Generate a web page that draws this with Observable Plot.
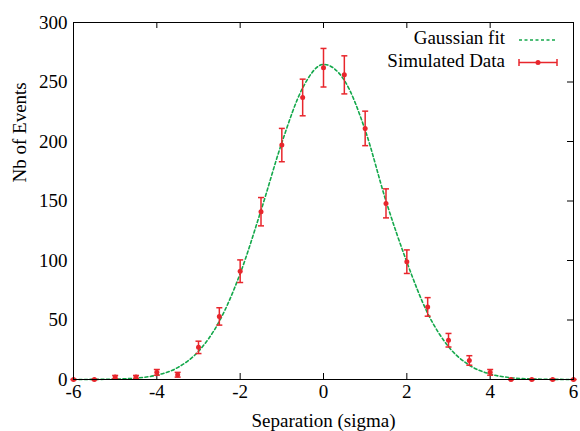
<!DOCTYPE html>
<html>
<head>
<meta charset="utf-8">
<script src="https://cdn.jsdelivr.net/npm/d3@7"></script>
<script src="https://cdn.jsdelivr.net/npm/@observablehq/plot@0.6"></script>
<style>
  html, body { margin: 0; padding: 0; background: #fff; }
</style>
</head>
<body>
<div id="chart"></div>
<script>
// Separation values (sigma), simulated counts and their error bars
const separation = [-6, -5.5, -5, -4.5, -4, -3.5, -3, -2.5, -2, -1.5, -1, -0.5, 0, 0.5, 1, 1.5, 2, 2.5, 3, 3.5, 4, 4.5, 5, 5.5, 6];
const counts =     [0, 0, 2, 2, 6, 4, 27, 53, 91, 141, 197, 237, 262, 256, 211, 148, 99, 61, 33, 16, 6, 0, 0, 0, 0];
const errors =     [0, 0, 1.4, 1.4, 2.4, 2, 5.2, 7.3, 9.5, 11.9, 14, 15.4, 16.2, 16, 14.5, 12.2, 9.9, 7.8, 5.7, 4, 2.4, 0, 0, 0, 0];
// Gaussian fit curve at the same separations
const fitValues =  [0.02, 0.09, 0.35, 1.2, 3.7, 10, 23.7, 48.9, 89, 142, 199, 245, 264.8, 251.4, 209.6, 150, 98.7, 55.7, 27.6, 12, 4.6, 1.5, 0.46, 0.12, 0.03];
const xTicks = [-6, -4, -2, 0, 2, 4, 6];
const yTicks = [0, 50, 100, 150, 200, 250, 300];
const seriesNames = ["Gaussian fit", "Simulated Data"];
const xTitle = "Separation (sigma)";
const yTitle = "Nb of Events";

const red = "#e8262c";
const green = "#14a84b";

const data = separation.map((x, i) => ({x, y: counts[i], e: errors[i]}));
const fit = separation.map((x, i) => ({x, y: fitValues[i]}));

const cap = {
  draw(context) {
    context.moveTo(-3, 0);
    context.lineTo(3, 0);
  }
};

function legend(index, scales, values, dims) {
  const g = d3.create("svg:g");
  const right = dims.width - dims.marginRight;
  const textX = right - 68;
  const s1 = right - 54, s2 = right - 16;
  const row1 = dims.marginTop + 16, row2 = dims.marginTop + 39;
  g.append("text").attr("x", textX).attr("y", row1).attr("dy", "0.32em")
    .attr("text-anchor", "end").attr("fill", "black").text(seriesNames[0]);
  g.append("text").attr("x", textX).attr("y", row2).attr("dy", "0.32em")
    .attr("text-anchor", "end").attr("fill", "black").text(seriesNames[1]);
  g.append("line").attr("x1", s1).attr("x2", s2).attr("y1", row1 + 2).attr("y2", row1 + 2)
    .attr("stroke", green).attr("stroke-width", 1.6).attr("stroke-dasharray", "3,2.5");
  const r2 = row2 + 1.5;
  g.append("line").attr("x1", s1).attr("x2", s2).attr("y1", r2).attr("y2", r2)
    .attr("stroke", red).attr("stroke-width", 1.5);
  g.append("line").attr("x1", s1).attr("x2", s1).attr("y1", r2 - 3.5).attr("y2", r2 + 3.5)
    .attr("stroke", red).attr("stroke-width", 1.5);
  g.append("line").attr("x1", s2).attr("x2", s2).attr("y1", r2 - 3.5).attr("y2", r2 + 3.5)
    .attr("stroke", red).attr("stroke-width", 1.5);
  g.append("circle").attr("cx", (s1 + s2) / 2).attr("cy", r2).attr("r", 2.5).attr("fill", red);
  return g.node();
}

const W = 580, H = 431;
const mL = 73, mR = 7, mT = 22, mB = 52;
const plotH = H - mT - mB, plotW = W - mL - mR;
const tick = 6;

const chart = Plot.plot({
  width: W,
  height: H,
  marginLeft: mL,
  marginRight: mR,
  marginTop: mT,
  marginBottom: mB,
  style: {fontFamily: "'Liberation Serif', 'Times New Roman', serif", fontSize: "19px", background: "white", color: "black", overflow: "visible"},
  x: {domain: [-6, 6]},
  y: {domain: [0, 300]},
  marks: [
    Plot.axisX(xTicks, {tickSize: 0, tickPadding: 5, tickFormat: d => String(d), label: null}),
    Plot.axisY(yTicks, {tickSize: 0, tickPadding: 6, label: null}),
    Plot.ruleX(xTicks, {x: d => d, insetTop: plotH - tick, stroke: "black"}),
    Plot.ruleX(xTicks, {x: d => d, insetBottom: plotH - tick, stroke: "black"}),
    Plot.ruleY(yTicks, {y: d => d, insetLeft: plotW - tick, stroke: "black"}),
    Plot.text([xTitle], {text: d => d, frameAnchor: "bottom", lineAnchor: "middle", dy: 41, fill: "black"}),
    Plot.text([yTitle], {text: d => d, frameAnchor: "left", lineAnchor: "middle", rotate: -90, dx: -54, dy: -18.5, fill: "black"}),
    Plot.line(fit, {x: "x", y: "y", stroke: green, strokeWidth: 1.6, strokeDasharray: "3,2.5", curve: "monotone-x"}),
    Plot.link(data, {x1: "x", x2: "x", y1: d => d.y - d.e, y2: d => d.y + d.e, stroke: red, strokeWidth: 1.5}),
    Plot.dot(data, {x: "x", y: d => d.y + d.e, symbol: cap, stroke: red, fill: "none", strokeWidth: 1.5}),
    Plot.dot(data, {x: "x", y: d => d.y - d.e, symbol: cap, stroke: red, fill: "none", strokeWidth: 1.5}),
    Plot.dot(data, {x: "x", y: "y", r: 2.5, fill: red}),
    Plot.frame({stroke: "black", strokeWidth: 1}),
    legend
  ]
});
document.getElementById("chart").appendChild(chart);
</script>
</body>
</html>
